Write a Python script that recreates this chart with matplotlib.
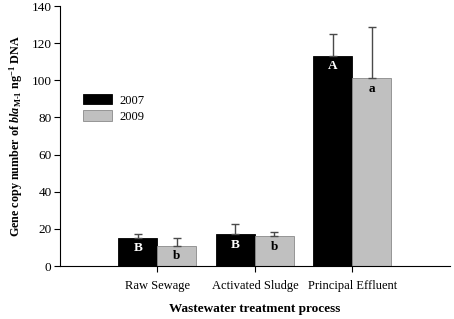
import numpy as np
import matplotlib as mpl
mpl.use("Agg")
import matplotlib.pyplot as plt

plt.rcParams['font.family']='Liberation Serif'
plt.rcParams['mathtext.fontset']='custom'
plt.rcParams['mathtext.rm']='Liberation Serif:bold'
plt.rcParams['mathtext.it']='Liberation Serif:italic:bold'
plt.rcParams['mathtext.bf']='Liberation Serif:bold'

categories=['Raw Sewage','Activated Sludge','Principal Effluent']
years=['2007','2009']
vals2007=[15,17,113]
err2007=[2,5.5,12]
vals2009=[11,16,101]
err2009=[4,2.5,27.5]
letters2007=['B','B','A']
letters2009=['b','b','a']

fig=plt.figure(figsize=(4.54,3.19),dpi=100)
ax=fig.add_axes([0.132,0.166,0.859,0.815])
x=np.arange(len(categories))
w=0.4
ekw=dict(ecolor='#4a4a4a',elinewidth=1,capsize=3,capthick=1)
b1=ax.bar(x-w/2,vals2007,w,color='black',edgecolor='black',linewidth=0.6,label=years[0],
  yerr=[np.zeros(3),err2007],error_kw=ekw)
b2=ax.bar(x+w/2,vals2009,w,color='#c0c0c0',edgecolor='#8a8a8a',linewidth=0.6,label=years[1],
  yerr=[np.zeros(3),err2009],error_kw=ekw)
for i in range(3):
  ax.annotate(letters2007[i],(x[i]-w/2,vals2007[i]),xytext=(0,-3),textcoords='offset points',
    ha='center',va='top',color='white',fontweight='bold',fontsize=9.5)
  ax.annotate(letters2009[i],(x[i]+w/2,vals2009[i]),xytext=(0,-3),textcoords='offset points',
    ha='center',va='top',color='black',fontweight='bold',fontsize=9.5)
ax.set_xlim(-1,3)
ax.set_ylim(0,140)
ax.set_yticks(np.arange(0,141,20))
ax.set_xticks(x)
ax.set_xticklabels(categories,fontsize=9)
ax.tick_params(axis='y',labelsize=9.5,length=4,direction='out',pad=2)
ax.tick_params(axis='x',length=4,direction='out',pad=6)
ax.spines['top'].set_visible(False)
ax.spines['right'].set_visible(False)
ax.set_xlabel('Wastewater treatment process',fontweight='bold',fontsize=9.5,labelpad=8)
ax.set_ylabel(r'Gene copy number of $\mathit{bla}_{\mathrm{M\text{-}1}}$ ng$^{\mathrm{-1}}$ DNA',fontweight='bold',fontsize=8.7,labelpad=5)
ax.legend(loc='upper left',bbox_to_anchor=(0.03,0.705),frameon=False,fontsize=9,handlelength=2.3,handleheight=0.9,labelspacing=0.3,handletextpad=0.6)
plt.savefig('out.png',dpi=100)
